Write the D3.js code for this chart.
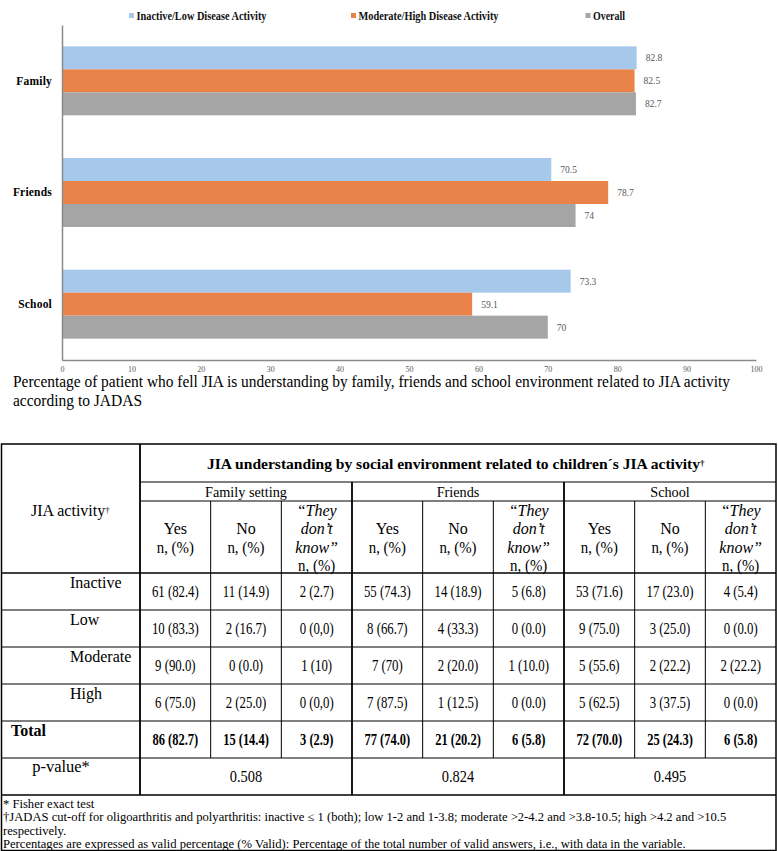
<!DOCTYPE html>
<html>
<head>
<meta charset="utf-8">
<script src="https://cdn.jsdelivr.net/npm/d3@7"></script>
<style>
  body { margin: 0; background: #fff; }
  svg { display: block; font-family: "Liberation Serif", "Times New Roman", serif; }
</style>
</head>
<body>
<script>
// chart data
const categories = ['Family', 'Friends', 'School'];
const seriesNames = ['Inactive/Low Disease Activity', 'Moderate/High Disease Activity', 'Overall'];
const inactiveLow = [82.8, 70.5, 73.3];
const moderateHigh = [82.5, 78.7, 59.1];
const overall = [82.7, 74, 70];
const seriesColors = ['#a6c8ea', '#e9834a', '#a5a5a5'];
const xTicks = [0, 10, 20, 30, 40, 50, 60, 70, 80, 90, 100];

// table data
const groups = ['Family setting', 'Friends', 'School'];
const activityRows = ['Inactive', 'Low', 'Moderate', 'High'];
const inactiveCells = ['61 (82.4)', '11 (14.9)', '2 (2.7)', '55 (74.3)', '14 (18.9)', '5 (6.8)', '53 (71.6)', '17 (23.0)', '4 (5.4)'];
const lowCells = ['10 (83.3)', '2 (16.7)', '0 (0,0)', '8 (66.7)', '4 (33.3)', '0 (0.0)', '9 (75.0)', '3 (25.0)', '0 (0.0)'];
const moderateCells = ['9 (90.0)', '0 (0.0)', '1 (10)', '7 (70)', '2 (20.0)', '1 (10.0)', '5 (55.6)', '2 (22.2)', '2 (22.2)'];
const highCells = ['6 (75.0)', '2 (25.0)', '0 (0,0)', '7 (87.5)', '1 (12.5)', '0 (0.0)', '5 (62.5)', '3 (37.5)', '0 (0.0)'];
const totalCells = ['86 (82.7)', '15 (14.4)', '3 (2.9)', '77 (74.0)', '21 (20.2)', '6 (5.8)', '72 (70.0)', '25 (24.3)', '6 (5.8)'];
const pValues = ['0.508', '0.824', '0.495'];
const footnotes = [
  '* Fisher exact test',
  '\u2020JADAS cut-off for oligoarthritis and polyarthritis: inactive \u2264 1 (both); low 1-2 and 1-3.8; moderate >2-4.2 and >3.8-10.5; high >4.2 and >10.5',
  'respectively.',
  'Percentages are expressed as valid percentage (% Valid): Percentage of the total number of valid answers, i.e., with data in the variable.'
];

const width = 778, height = 851;
const svg = d3.select('body').append('svg').attr('width', width).attr('height', height);
svg.append('rect').attr('width', width).attr('height', height).attr('fill', '#fff');

// ---- bar chart ----
const x = d3.scaleLinear().domain([0, 100]).range([62, 756]);
const y0 = d3.scaleBand().domain(categories).range([25, 360]).paddingInner(0.382).paddingOuter(0.191);
const y1 = d3.scaleBand().domain(seriesNames).range([0, y0.bandwidth()]);

const seriesValues = [inactiveLow, moderateHigh, overall];
const barData = [];
categories.forEach((c, i) => {
  seriesNames.forEach((s, j) => barData.push({cat: c, series: s, value: seriesValues[j][i], color: seriesColors[j]}));
});

svg.append('g').selectAll('rect')
  .data(barData)
  .enter()
  .append('rect')
  .attr('x', x(0))
  .attr('y', d => y0(d.cat) + y1(d.series))
  .attr('width', d => x(d.value) - x(0))
  .attr('height', y1.bandwidth())
  .attr('fill', d => d.color);

svg.append('g').selectAll('text')
  .data(barData)
  .enter()
  .append('text')
  .attr('x', d => x(d.value) + 9)
  .attr('y', d => y0(d.cat) + y1(d.series) + y1.bandwidth() / 2 + 3.5)
  .attr('font-size', 9.5)
  .attr('fill', '#595959')
  .text(d => d.value);

const xAxis = d3.axisBottom(x).tickValues(xTicks).tickSize(0).tickSizeOuter(0).tickPadding(6);
const gx = svg.append('g').attr('transform', 'translate(0,360)').call(xAxis);
gx.select('.domain').attr('stroke', '#8a8a8a').attr('stroke-width', 1.5);
gx.selectAll('text').attr('font-family', 'Liberation Serif').attr('font-size', 8).attr('fill', '#595959');

const yAxis = d3.axisLeft(y0).tickSize(0).tickSizeOuter(0).tickPadding(10);
const gy = svg.append('g').attr('transform', 'translate(62,0)').call(yAxis);
gy.select('.domain').attr('stroke', '#8a8a8a').attr('stroke-width', 1.5);
gy.selectAll('text').attr('font-family', 'Liberation Serif').attr('font-size', 11.5)
  .attr('font-weight', 'bold').attr('fill', '#000').attr('letter-spacing', 0.2);

// legend
const legendX = [129, 351, 585.5];
const legendW = [130, 140, 32];
const legend = svg.append('g');
seriesNames.forEach((s, j) => {
  legend.append('rect').attr('x', legendX[j]).attr('y', 13).attr('width', 5).attr('height', 5).attr('fill', seriesColors[j]);
  legend.append('text').attr('x', legendX[j] + 7.5).attr('y', 19.5)
    .attr('font-size', 11.5).attr('font-weight', 'bold').attr('fill', '#111')
    .attr('textLength', legendW[j]).attr('lengthAdjust', 'spacingAndGlyphs')
    .text(s);
});

// caption
svg.append('text').attr('x', 13).attr('y', 387).attr('font-size', 16)
  .attr('textLength', 717).attr('lengthAdjust', 'spacingAndGlyphs')
  .text('Percentage of patient who fell JIA is understanding by family, friends and school environment related to JIA activity');
svg.append('text').attr('x', 13).attr('y', 406).attr('font-size', 16)
  .attr('textLength', 129).attr('lengthAdjust', 'spacingAndGlyphs')
  .text('according to JADAS');

// ---- table ----
const tbl = svg.append('g');
const tLeft = 1.5, tRight = 776, tTop = 444, tBottom = 850.5;
const firstColR = 140;
const sub = d3.scaleBand().domain(d3.range(9)).range([firstColR, tRight]);
const grp = d3.scaleBand().domain(groups).range([firstColR, tRight]);
const bodyRows = activityRows.concat(['Total', 'p-value*']);
const rowY = d3.scaleBand().domain(bodyRows).range([573, 795]);
const h1 = 482, h2 = 501, h3 = 573;

function line(x1, y1, x2, y2, w) {
  tbl.append('line').attr('x1', x1).attr('y1', y1).attr('x2', x2).attr('y2', y2)
    .attr('stroke', '#000').attr('stroke-width', w || 1);
}
function cellText(cx, cy, s, opt) {
  opt = opt || {};
  const sx = opt.sx || 1;
  return tbl.append('text')
    .attr('transform', `translate(${cx},${cy}) scale(${sx},1)`)
    .attr('text-anchor', opt.anchor || 'middle')
    .attr('font-size', opt.size || 15.5)
    .attr('font-weight', opt.bold ? 'bold' : 'normal')
    .attr('font-style', opt.italic ? 'italic' : 'normal')
    .attr('fill', '#000')
    .text(s);
}
function dagger(t) {
  t.append('tspan').attr('font-size', 9).attr('dy', -3).text('\u2020');
}

// grid
tbl.append('rect').attr('x', tLeft).attr('y', tTop).attr('width', tRight - tLeft).attr('height', tBottom - tTop)
  .attr('fill', 'none').attr('stroke', '#000').attr('stroke-width', 1.5);
line(firstColR, h1, tRight, h1);
line(firstColR, h2, tRight, h2);
line(tLeft, h3, tRight, h3, 1.5);
bodyRows.forEach(r => line(tLeft, rowY(r) + rowY.bandwidth(), tRight, rowY(r) + rowY.bandwidth(), r === 'p-value*' ? 1.5 : 1));
line(firstColR, tTop, firstColR, 795, 1.8);
groups.forEach((g, i) => { if (i > 0) line(grp(g), h1, grp(g), 795, 1.8); });
d3.range(9).forEach(i => { if (i % 3 !== 0) line(sub(i), h2, sub(i), rowY('p-value*'), 1); });

// headers
const head = tbl.append('text').attr('x', 207).attr('y', 469)
  .attr('font-size', 15.5).attr('font-weight', 'bold');
head.append('tspan').attr('textLength', 493).attr('lengthAdjust', 'spacingAndGlyphs')
  .text('JIA understanding by social environment related to children\u00b4s JIA activity');
dagger(head);
dagger(cellText(31, 516, 'JIA activity', {anchor: 'start', size: 16}));
groups.forEach(g => cellText(grp(g) + grp.bandwidth() / 2, 497, g, {sx: 0.92}));
d3.range(9).forEach(i => {
  const cx = sub(i) + sub.bandwidth() / 2;
  const k = i % 3;
  if (k === 0 || k === 1) {
    cellText(cx, 534, k === 0 ? 'Yes' : 'No', {size: 16});
    cellText(cx, 552.5, 'n, (%)', {sx: 0.93, size: 16});
  } else {
    cellText(cx, 516, '\u201cThey', {italic: true, size: 16});
    cellText(cx, 534, 'don\u2019t', {italic: true, size: 16});
    cellText(cx, 552.5, 'know\u201d', {italic: true, size: 16});
    cellText(cx, 570.5, 'n, (%)', {sx: 0.93, size: 16});
  }
});

// body
const bodyCells = [inactiveCells, lowCells, moderateCells, highCells];
activityRows.forEach((r, ri) => {
  const ry = rowY(r);
  cellText(70, ry + 15, r, {anchor: 'start', size: 16});
  bodyCells[ri].forEach((v, i) => cellText(sub(i) + sub.bandwidth() / 2, ry + rowY.bandwidth() / 2 + 5.5, v, {size: 16, sx: 0.8}));
});
const ty = rowY('Total');
cellText(11, ty + 15, 'Total', {anchor: 'start', bold: true, size: 16});
totalCells.forEach((v, i) => cellText(sub(i) + sub.bandwidth() / 2, ty + rowY.bandwidth() / 2 + 5.5, v, {bold: true, size: 16, sx: 0.78}));
const py = rowY('p-value*');
cellText(61, py + 13.5, 'p-value*', {size: 16.5});
groups.forEach((g, i) => cellText(grp(g) + grp.bandwidth() / 2, py + rowY.bandwidth() / 2 + 5, pValues[i], {size: 16, sx: 0.9}));

// footnotes: one shared horizontal squeeze, fitted to the long line
const footG = tbl.append('g');
const footY = i => 808 + i * 13.4;
const footT = footnotes.map((f, i) => footG.append('text').attr('font-size', 12).text(f));
const fsx = 724 / footT[1].node().getComputedTextLength();
footT.forEach((t, i) => t.attr('transform', `translate(3,${footY(i)}) scale(${fsx},1)`));
</script>
</body>
</html>
